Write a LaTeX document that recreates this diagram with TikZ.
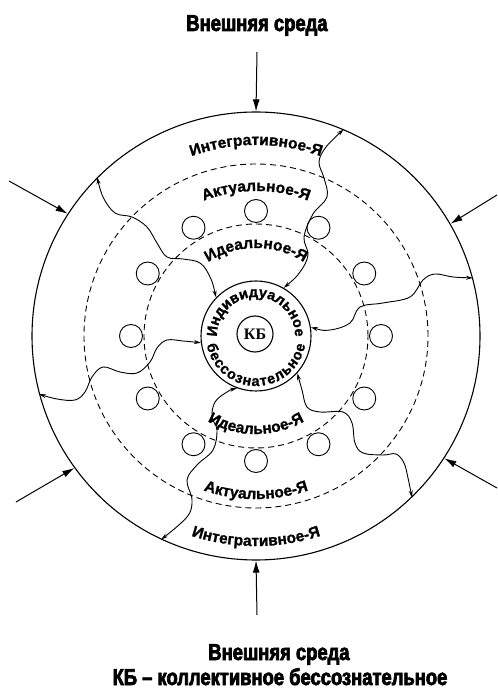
\documentclass[tikz,border=0pt]{standalone}
\usepackage{fontspec}
\usepackage{tikz}
\usetikzlibrary{arrows.meta,decorations.text}
\setmainfont{Liberation Sans}
\newfontfamily\headfont{Liberation Sans Bold}[FakeStretch=0.8,FakeBold=3]
\newfontfamily\ringfont{Liberation Sans Bold}[FakeBold=1.2]
\newfontfamily\kbfont{Liberation Serif Bold}
\newcommand\ringlbl{\ringfont\fontsize{15.5}{17}\selectfont}
\newcommand\corelbl{\ringfont\fontsize{14.5}{16}\selectfont}

\begin{document}
\begin{tikzpicture}[x=1pt,y=1pt,shell/.style={draw,circle,inner sep=0pt,line width=1.1pt},dashring/.style={draw,line width=0.9pt,dash pattern=on 6pt off 4pt},bead/.style={draw,line width=0.9pt},envarr/.style={-{Latex[length=12pt,width=7pt]},line width=1pt},wave/.style={{Stealth[length=7pt,width=4pt]}-{Stealth[length=7pt,width=4pt]},line width=0.9pt},toparc/.style={decorate,decoration={text along path,text align=center,text={|\ringlbl|#1}}},corearc/.style={decorate,decoration={text along path,text align=#1}},head/.style={anchor=base,font=\headfont\fontsize{23}{26}\selectfont}]
\useasboundingbox (-256,-356) rectangle (241,336);
\node[shell,minimum size=448pt] (outer) at (0,0) {};
\node[shell,minimum size=110pt] (indiv) at (0,0) {};
\node[shell,minimum size=36pt,font=\kbfont\fontsize{16}{18}\selectfont] (kb) at (-1,2) {КБ};
\draw[dashring] (0,0) circle[radius=172];
\draw[dashring] (0,0) circle[radius=112];
\foreach \a in {0,30,...,330} \draw[bead] (\a:125) circle[radius=11.5];
\node[head] (envtop) at (1,305) {Внешняя среда};
\node[head] (envbot) at (23,-324) {Внешняя среда};
\node[head] (legend) at (24,-349) {КБ – коллективное бессознательное};
\coordinate (envN) at (1,284);\coordinate (envS) at (1,-279);
\coordinate (envNW) at (-247,155);\coordinate (envNE) at (241,141);
\coordinate (envSW) at (-240,-166);\coordinate (envSE) at (241,-152);
\draw[envarr] (envN)--(outer.90);\draw[envarr] (envS)--(outer.270);
\draw[envarr] (envNW)--(outer.147);\draw[envarr] (envNE)--(outer.30);
\draw[envarr] (envSW)--(outer.216);\draw[envarr] (envSE)--(outer.327);
\draw[wave] plot[smooth,tension=0.6] coordinates {(indiv.60) (44,64) (52,81) (48,99) (57,122) (71,139) (68,158) (63,174) (70,189) (outer.67)};
\draw[wave] plot[smooth,tension=0.6] coordinates {(indiv.136) (-46,59) (-56,73) (-73,77) (-89,79) (-99,93) (-109,109) (-124,119) (-141,123) (-153,139) (outer.135)};
\draw[wave] plot[smooth,tension=0.6] coordinates {(indiv.9) (74,6) (94,13) (104,29) (127,33) (154,39) (167,56) (179,62) (197,59) (outer.15)};
\draw[wave] plot[smooth,tension=0.6] coordinates {(indiv.187) (-73,-5) (-89,-4) (-99,-12) (-106,-26) (-119,-37) (-136,-36) (-153,-31) (-164,-41) (-171,-56) (-181,-64) (-199,-63) (outer.195)};
\draw[wave] plot[smooth,tension=0.6] coordinates {(indiv.250) (-29,-56) (-41,-66) (-44,-81) (-39,-94) (-43,-114) (-59,-129) (-69,-144) (-64,-164) (-69,-181) (outer.245)};
\draw[wave] plot[smooth,tension=0.6] coordinates {(indiv.318) (46,-54) (51,-71) (64,-76) (87,-76) (96,-87) (99,-107) (107,-117) (127,-119) (140,-118) (148,-127) (152,-142) (outer.314)};
\path[toparc={Интегративное-Я}] (160:191) arc[start angle=160,end angle=20,radius=191];
\path[toparc={Актуальное-Я}] (160:145) arc[start angle=160,end angle=20,radius=145];
\path[toparc={Идеальное-Я}] (170:88) arc[start angle=170,end angle=10,radius=88];
\path[toparc={Идеальное-Я}] (190:98) arc[start angle=190,end angle=350,radius=98];
\path[toparc={Актуальное-Я}] (200:163) arc[start angle=200,end angle=340,radius=163];
\path[toparc={Интегративное-Я}] (200:210) arc[start angle=200,end angle=340,radius=210];
\path[corearc=center,decoration={text={|\corelbl|Индивидуальное}}] (200:39) arc[start angle=200,end angle=-20,radius=39];
\path[corearc={fit to path},decoration={text={|\corelbl|бессознательное}}] (190:50) arc[start angle=190,end angle=350,radius=50];
\end{tikzpicture}
\end{document}
